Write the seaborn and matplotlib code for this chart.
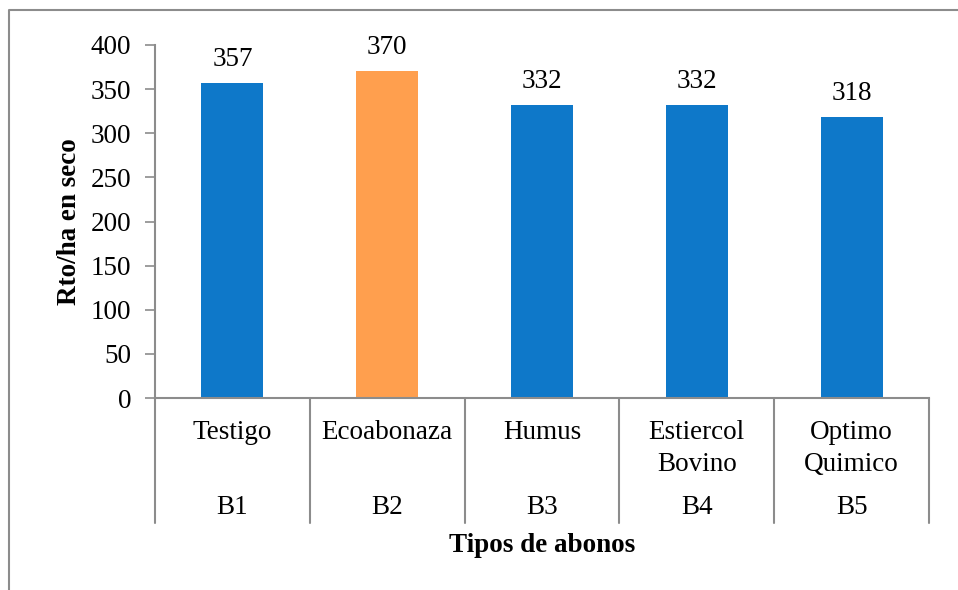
import matplotlib
matplotlib.use("Agg")
import matplotlib.pyplot as plt
import matplotlib.transforms as mtransforms
from matplotlib.lines import Line2D
import seaborn as sns
import pandas as pd

# Yield per fertiliser type
tipos = ["Testigo", "Ecoabonaza", "Humus", "Estiercol\nBovino", "Optimo\nQuimico"]
codigos = ["B1", "B2", "B3", "B4", "B5"]
rendimiento = [357, 370, 332, 332, 318]
colores = ["#0E78C9", "#FF9F4E", "#0E78C9", "#0E78C9", "#0E78C9"]

sns.set_theme(style="white")
plt.rcParams["font.family"] = "serif"
plt.rcParams["font.serif"] = ["Liberation Serif", "Times New Roman", "DejaVu Serif"]
plt.rcParams.update({"text.color": "black", "axes.labelcolor": "black",
                     "xtick.color": "black", "ytick.color": "black"})

FS = 19.5
GRIS = "#8C8C8C"
W, H = 958, 590

df = pd.DataFrame({"codigo": codigos, "tipo": tipos, "rto": rendimiento})

fig = plt.figure(figsize=(W / 100, H / 100), dpi=100)
ax = fig.add_axes([155 / W, (H - 398) / H, 774 / W, 353 / H])

sns.barplot(data=df, x="codigo", y="rto", hue="codigo", palette=colores,
            order=codigos, hue_order=codigos, legend=False, width=0.4,
            saturation=1, ax=ax, edgecolor="none")

for cont in ax.containers:
    ax.bar_label(cont, fmt="%d", padding=8, fontsize=FS, color="black")

ax.set_xlim(-0.5, len(codigos) - 0.5)
ax.set_ylim(0, 400)
ax.set_yticks(range(0, 401, 50))
ax.tick_params(axis="y", which="major", length=7, width=1.2, color=GRIS,
               labelcolor="black", direction="out", pad=10, labelsize=FS,
               left=True)
ax.set_xticks([])
ax.set_xlabel("")

for side in ("top", "right"):
    ax.spines[side].set_visible(False)
for side in ("left", "bottom"):
    ax.spines[side].set_color(GRIS)
    ax.spines[side].set_linewidth(1.5)

ax.set_ylabel("Rto/ha en seco", fontsize=FS, fontweight="bold", labelpad=0)
ax.yaxis.set_label_coords(-0.094, 0.5)

# Two-level category axis: dividers and labels
trans = mtransforms.blended_transform_factory(ax.transData, fig.transFigure)
y_top = (H - 398) / H
y_bot = (H - 523) / H
for b in [i - 0.5 for i in range(len(codigos) + 1)]:
    ax.add_line(Line2D([b, b], [y_top, y_bot], transform=trans, color=GRIS,
                       lw=1.5, clip_on=False))

for i, (t, c) in enumerate(zip(tipos, codigos)):
    ax.text(i, (H - 420) / H, t, transform=trans, ha="center", va="top",
            fontsize=FS, linespacing=1.35)
    ax.text(i, (H - 508) / H, c, transform=trans, ha="center", va="center",
            fontsize=FS)

fig.text(542 / W, (H - 546) / H, "Tipos de abonos", ha="center", va="center",
         fontsize=FS, fontweight="bold")

# Chart frame (left and top edges)
fig.add_artist(Line2D([8.5 / W, 8.5 / W, 1.0], [0.0, (H - 10) / H, (H - 10) / H],
                      transform=fig.transFigure, color=GRIS, lw=1.5))

fig.savefig("out.png", dpi=100, facecolor="white")
